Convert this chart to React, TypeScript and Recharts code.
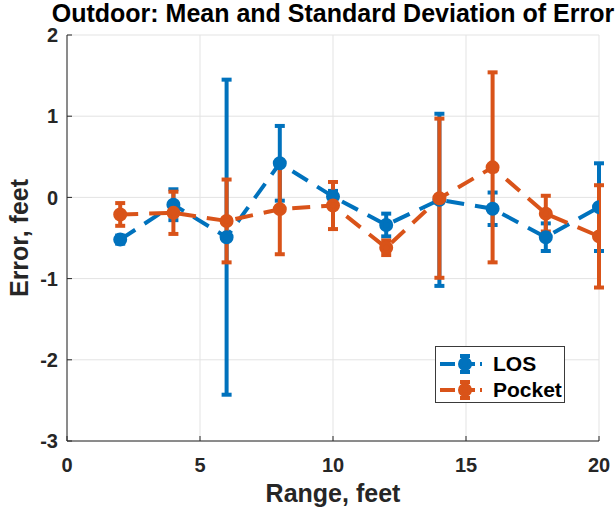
import React from 'react';
import { LineChart, Line, XAxis, YAxis, CartesianGrid, ErrorBar, Legend } from 'recharts';

const rangeFt = [2, 4, 6, 8, 10, 12, 14, 16, 18, 20];
const losMean = [-0.52, -0.09, -0.49, 0.42, 0.01, -0.34, -0.03, -0.14, -0.49, -0.12];
const losStd = [0.05, 0.19, 1.94, 0.46, 0.07, 0.14, 1.06, 0.2, 0.17, 0.54];
const pocketMean = [-0.21, -0.19, -0.29, -0.145, -0.1, -0.62, -0.01, 0.37, -0.2, -0.48];
const pocketStd = [0.14, 0.26, 0.51, 0.555, 0.29, 0.09, 0.98, 1.17, 0.22, 0.63];
const xTicks = [0, 5, 10, 15, 20];
const yTicks = [-3, -2, -1, 0, 1, 2];
const seriesNames = ['LOS', 'Pocket'];

const BLUE = '#0072BD';
const ORANGE = '#D95319';
const FONT = '"Liberation Sans", Arial, Helvetica, sans-serif';
const AXIS = '#262626';

const data = rangeFt.map((x, i) => ({
  x,
  los: losMean[i],
  losErr: losStd[i],
  pocket: pocketMean[i],
  pocketErr: pocketStd[i],
}));

const colors = [BLUE, ORANGE];

const LegendIcon = ({ color }: { color: string }) => (
  <svg width={46} height={26} style={{ display: 'block' }}>
    <line x1={2} y1={13} x2={44} y2={13} stroke={color} strokeWidth={4} strokeDasharray="15 5" />
    <line x1={27} y1={4} x2={27} y2={22} stroke={color} strokeWidth={4} />
    <line x1={22} y1={5} x2={32} y2={5} stroke={color} strokeWidth={4} />
    <line x1={22} y1={21} x2={32} y2={21} stroke={color} strokeWidth={4} />
    <circle cx={27} cy={13} r={5} fill={color} stroke={color} strokeWidth={4} />
  </svg>
);

const renderLegend = () => (
  <div
    style={{
      width: 130,
      height: 57,
      boxSizing: 'border-box',
      border: '1px solid #3a3a3a',
      background: '#fff',
      paddingTop: 4,
    }}
  >
    {seriesNames.map((n, i) => (
      <div key={n} style={{ display: 'flex', alignItems: 'center', height: 26 }}>
        <div style={{ width: 2 }} />
        <LegendIcon color={colors[i]} />
        <span
          style={{
            marginLeft: 9,
            fontFamily: FONT,
            fontWeight: 'bold',
            fontSize: 21,
            color: '#000',
          }}
        >
          {n}
        </span>
      </div>
    ))}
  </div>
);

const tickStyle = { fontSize: 20, fontWeight: 'bold', fill: AXIS, fontFamily: FONT };

export default function App() {
  return (
    <div style={{ position: 'absolute', left: 0, top: 0, width: 616, height: 510, background: '#fff' }}>
      <div
        style={{
          position: 'absolute',
          left: 33,
          width: 600,
          top: 6,
          height: 14,
          textAlign: 'center',
          fontFamily: FONT,
          fontWeight: 'bold',
          fontSize: 25,
          lineHeight: '14px',
          color: '#000',
          whiteSpace: 'nowrap',
          zIndex: 2,
        }}
      >
        Outdoor: Mean and Standard Deviation of Error
      </div>
      <LineChart width={616} height={510} data={data} margin={{ top: 35, right: 17, bottom: 0, left: 20 }}>
        <CartesianGrid stroke="#e3e3e3" strokeWidth={1} />
        <XAxis
          type="number"
          dataKey="x"
          domain={[0, 20]}
          ticks={xTicks}
          height={69}
          stroke={AXIS}
          tickSize={-5}
          tickMargin={22}
          tick={tickStyle}
          allowDataOverflow
          label={{
            value: 'Range, feet',
            position: 'center',
            dy: 18,
            style: { fontSize: 25, fontWeight: 'bold', fill: AXIS, fontFamily: FONT },
          }}
        />
        <YAxis
          type="number"
          domain={[-3, 2]}
          ticks={yTicks}
          width={47}
          stroke={AXIS}
          tickSize={-5}
          tickMargin={14}
          tick={tickStyle}
          allowDataOverflow
          label={{
            value: 'Error, feet',
            angle: -90,
            position: 'insideLeft',
            offset: -1,
            style: { fontSize: 25, fontWeight: 'bold', fill: AXIS, fontFamily: FONT, textAnchor: 'middle' },
          }}
        />
        <Legend
          layout="vertical"
          align="center"
          verticalAlign="middle"
          content={renderLegend}
          wrapperStyle={{ position: 'absolute', left: 435, top: 346, width: 130, height: 57 }}
        />
        <Line
          dataKey="los"
          name="LOS"
          stroke={BLUE}
          strokeWidth={4}
          strokeDasharray="18 11"
          isAnimationActive={false}
          dot={{ r: 5, fill: BLUE, stroke: BLUE, strokeWidth: 4, strokeDasharray: '' }}
          activeDot={false}
        >
          <ErrorBar dataKey="losErr" direction="y" width={5} strokeWidth={4} stroke={BLUE} isAnimationActive={false} />
        </Line>
        <Line
          dataKey="pocket"
          name="Pocket"
          stroke={ORANGE}
          strokeWidth={4}
          strokeDasharray="18 11"
          isAnimationActive={false}
          dot={{ r: 5, fill: ORANGE, stroke: ORANGE, strokeWidth: 4, strokeDasharray: '' }}
          activeDot={false}
        >
          <ErrorBar dataKey="pocketErr" direction="y" width={5} strokeWidth={4} stroke={ORANGE} isAnimationActive={false} />
        </Line>
      </LineChart>
    </div>
  );
}
